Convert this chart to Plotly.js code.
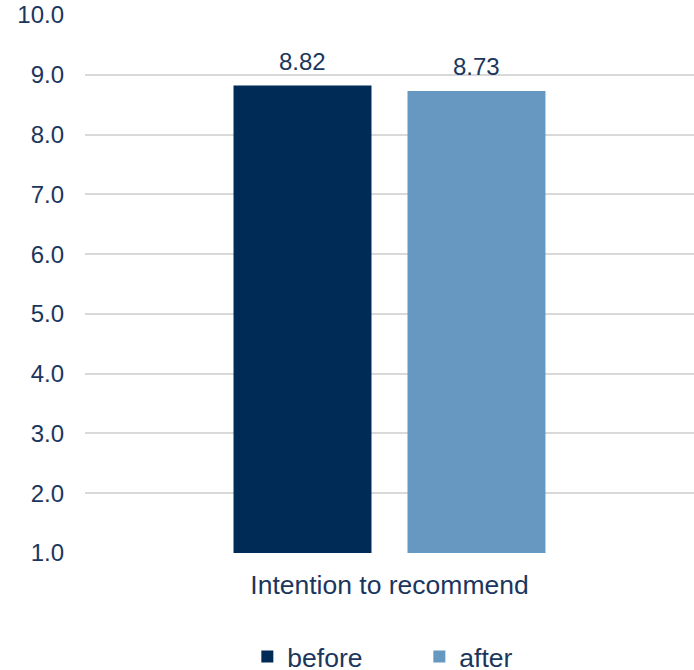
<!DOCTYPE html>
<html>
<head>
<meta charset="utf-8">
<script src="https://cdn.plot.ly/plotly-3.0.1.min.js"></script>
<style>
  html, body { margin: 0; padding: 0; background: #ffffff; }
  #chart { width: 694px; height: 670px; }
</style>
</head>
<body>
<div id="chart"></div>
<script>
// Survey score, before vs after
const categories = ["Intention to recommend"];
const seriesNames = ["before", "after"];
const beforeValues = [8.82];
const afterValues = [8.73];
const yTickValues = [1, 2, 3, 4, 5, 6, 7, 8, 9, 10];
const yTickLabels = ["1.0", "2.0", "3.0", "4.0", "5.0", "6.0", "7.0", "8.0", "9.0", "10.0"];

const FONT = "Liberation Sans, Arial, sans-serif";
const TEXT = "#1b365d";
const COLORS = ["#002b56", "#6798c1"];
const BARGAP = 0.4286;
const BARGROUPGAP = 0.207;

const seriesValues = [beforeValues, afterValues];

const traces = seriesNames.map((name, s) => ({
  type: "bar",
  name: name,
  x: categories,
  y: seriesValues[s],
  marker: { color: COLORS[s], line: { width: 0 } },
  hoverinfo: "skip"
}));

// value labels above each bar, positioned at the grouped bar centres
const slot = (1 - BARGAP) / seriesNames.length;
const annotations = [];
seriesValues.forEach((vals, s) => {
  vals.forEach((v, i) => {
    annotations.push({
      x: i - (1 - BARGAP) / 2 + slot * (s + 0.5),
      y: v,
      xref: "x",
      yref: "y",
      text: v.toFixed(2),
      showarrow: false,
      yanchor: "bottom",
      yshift: 9,
      font: { family: FONT, size: 24, color: TEXT }
    });
  });
});

const layout = {
  width: 694,
  height: 670,
  margin: { l: 85, r: 0, t: 15, b: 117, autoexpand: false },
  paper_bgcolor: "#ffffff",
  plot_bgcolor: "#ffffff",
  barmode: "group",
  bargap: BARGAP,
  bargroupgap: BARGROUPGAP,
  font: { family: FONT, color: TEXT },
  xaxis: {
    type: "category",
    showgrid: false,
    zeroline: false,
    showline: false,
    ticks: "",
    ticklabelstandoff: 13,
    tickfont: { family: FONT, size: 26.5, color: TEXT }
  },
  yaxis: {
    range: [1, 10],
    tickvals: yTickValues,
    ticktext: yTickLabels,
    showgrid: true,
    gridcolor: "#d9d9d9",
    gridwidth: 2,
    zeroline: false,
    showline: false,
    ticks: "",
    ticklabelstandoff: 20,
    tickfont: { family: FONT, size: 24, color: TEXT }
  },
  showlegend: true,
  legend: {
    orientation: "h",
    x: 0.549,
    xanchor: "center",
    y: -0.193,
    yanchor: "middle",
    font: { family: FONT, size: 26.5, color: TEXT },
    traceorder: "normal",
    entrywidth: 127
  },
  annotations: annotations
};

Plotly.newPlot("chart", traces, layout, { staticPlot: true, displayModeBar: false });
</script>
</body>
</html>
